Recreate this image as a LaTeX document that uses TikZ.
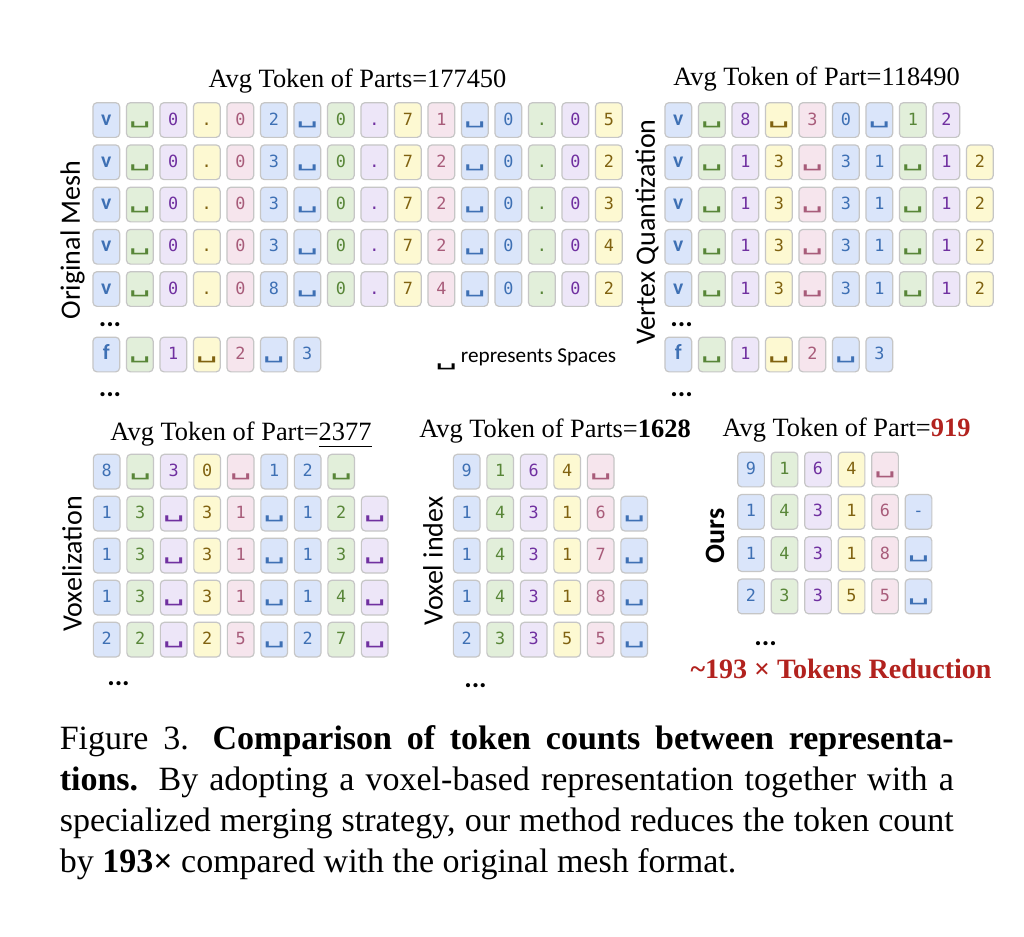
\documentclass[tikz,border=0pt]{standalone}
\usepackage{fontspec}
\setmainfont{Liberation Serif}
\setsansfont{Carlito}
\setmonofont{DejaVu Sans Mono}
\usepackage{xcolor}
\usepackage{graphicx}
\usetikzlibrary{positioning}
\definecolor{tokBfill}{RGB}{218,229,250}
\definecolor{tokGfill}{RGB}{226,239,218}
\definecolor{tokPfill}{RGB}{237,230,248}
\definecolor{tokYfill}{RGB}{253,249,210}
\definecolor{tokKfill}{RGB}{246,229,237}
\definecolor{tokBtext}{RGB}{62,112,180}
\definecolor{tokGtext}{RGB}{88,134,56}
\definecolor{tokPtext}{RGB}{112,48,160}
\definecolor{tokYtext}{RGB}{128,98,16}
\definecolor{tokKtext}{RGB}{168,92,122}
\definecolor{tokEdge}{RGB}{198,198,198}
\definecolor{redHi}{RGB}{178,34,30}
\newcommand{\vtok}{\sffamily\bfseries\fontsize{5.4}{5.4}\selectfont}
\newcommand{\tsp}{{\fontsize{6}{6}\selectfont\raisebox{0.3pt}{\scalebox{1.55}[0.8]{␣}}}}
\newcommand{\tokrow}[4]{%
  \foreach \tk [count=\i] in {#4} {%
    \pgfmathtruncatemacro{\tokc}{mod(\i-1,6)+1}%
    \node[tok, tok\tokc] (#1-\i) at ({#2+(\i-1)*33.5},#3) {\tk};
  }}
\tikzset{
  tok/.style={draw=tokEdge, line width=0.3pt, rounded corners=1pt,
    minimum width=6.675pt, minimum height=8.675pt, inner sep=0pt,
    text height=3pt, text depth=0.5pt, font=\ttfamily\fontsize{4.2}{4.2}\selectfont},
  tok1/.style={fill=tokBfill, text=tokBtext},
  tok2/.style={fill=tokGfill, text=tokGtext},
  tok3/.style={fill=tokPfill, text=tokPtext},
  tok4/.style={fill=tokYfill, text=tokYtext},
  tok5/.style={fill=tokKfill, text=tokKtext},
  tok6/.style={fill=tokBfill, text=tokBtext},
  title/.style={anchor=base, inner sep=0pt, font=\fontsize{6.6}{6.6}\selectfont},
  sidelab/.style={rotate=90, inner sep=0pt, font=\sffamily\fontsize{7}{7}\selectfont},
  moredots/.style={anchor=base, inner sep=0pt, font=\sffamily\bfseries\fontsize{7}{7}\selectfont},
  capline/.style={anchor=base west, inner sep=0pt, font=\fontsize{8.5}{10.25}\selectfont},
}

\begin{document}
\begin{tikzpicture}[x=0.25pt,y=-0.25pt]
\path[fill=white] (0,0) rectangle (1024,936);
\useasboundingbox (0,0) rectangle (1024,936);

% original mesh
\node[title] (t-om) at (357.5,87) {Avg Token of Parts=177450};
\node[sidelab] (l-om) at (72.5,240) {Original Mesh};
\tokrow{om1}{106.3}{120}{{\vtok v},\tsp,0,{.},0,2,\tsp,0,{.},7,1,\tsp,0,{.},0,5}
\tokrow{om2}{106.3}{162.25}{{\vtok v},\tsp,0,{.},0,3,\tsp,0,{.},7,2,\tsp,0,{.},0,2}
\tokrow{om3}{106.3}{204.5}{{\vtok v},\tsp,0,{.},0,3,\tsp,0,{.},7,2,\tsp,0,{.},0,3}
\tokrow{om4}{106.3}{246.75}{{\vtok v},\tsp,0,{.},0,3,\tsp,0,{.},7,2,\tsp,0,{.},0,4}
\tokrow{om5}{106.3}{289}{{\vtok v},\tsp,0,{.},0,8,\tsp,0,{.},7,4,\tsp,0,{.},0,2}
\node[moredots] (om-d1) at (110,326) {...};
\tokrow{omf}{106.3}{354.5}{{\vtok f},\tsp,1,\tsp,2,\tsp,3}
\node[moredots] (om-d2) at (110,396) {...};
\node[anchor=base east, inner sep=0pt, font=\sffamily\fontsize{5.3}{5.3}\selectfont] (spaces) at (617,362)
  {\raisebox{-0.9pt}{\ttfamily\fontsize{6}{6}\selectfont\scalebox{1.55}[0.8]{␣}}\,represents Spaces};

% vertex quantization
\node[title] (t-vq) at (816.5,85) {Avg Token of Part=118490};
\node[sidelab] (l-vq) at (647,232) {Vertex Quantization};
\tokrow{vq1}{678.3}{120}{{\vtok v},\tsp,8,\tsp,3,0,\tsp,1,2}
\tokrow{vq2}{678.3}{162.25}{{\vtok v},\tsp,1,3,\tsp,3,1,\tsp,1,2}
\tokrow{vq3}{678.3}{204.5}{{\vtok v},\tsp,1,3,\tsp,3,1,\tsp,1,2}
\tokrow{vq4}{678.3}{246.75}{{\vtok v},\tsp,1,3,\tsp,3,1,\tsp,1,2}
\tokrow{vq5}{678.3}{289}{{\vtok v},\tsp,1,3,\tsp,3,1,\tsp,1,2}
\node[moredots] (vq-d1) at (681.5,326) {...};
\tokrow{vqf}{678.3}{354.5}{{\vtok f},\tsp,1,\tsp,2,\tsp,3}
\node[moredots] (vq-d2) at (681.5,396.5) {...};

% voxelization
\node[title] (t-vx) at (241,440.5) {Avg Token of Part=\underline{2377}};
\node[sidelab] (l-vx) at (72,564) {Voxelization};
\tokrow{vx1}{106.7}{471.6}{8,\tsp,3,0,\tsp,1,2,\tsp}
\tokrow{vx2}{106.7}{513.6}{1,3,\tsp,3,1,\tsp,1,2,\tsp}
\tokrow{vx3}{106.7}{555.6}{1,3,\tsp,3,1,\tsp,1,3,\tsp}
\tokrow{vx4}{106.7}{597.6}{1,3,\tsp,3,1,\tsp,1,4,\tsp}
\tokrow{vx5}{106.7}{639.6}{2,2,\tsp,2,5,\tsp,2,7,\tsp}
\node[moredots] (vx-d) at (118.5,685) {...};

% voxel index
\node[title] (t-vi) at (555,437) {Avg Token of Parts=\textbf{1628}};
\node[sidelab] (l-vi) at (433,561) {Voxel index};
\tokrow{vi1}{466.7}{471.6}{9,1,6,4,\tsp}
\tokrow{vi2}{466.7}{513.6}{1,4,3,1,6,\tsp}
\tokrow{vi3}{466.7}{555.6}{1,4,3,1,7,\tsp}
\tokrow{vi4}{466.7}{597.6}{1,4,3,1,8,\tsp}
\tokrow{vi5}{466.7}{639.6}{2,3,3,5,5,\tsp}
\node[moredots] (vi-d) at (475.5,687.5) {...};

% ours
\node[title] (t-ou) at (846.5,436.5) {Avg Token of Part=\textcolor{redHi}{\textbf{919}}};
\node[sidelab, font=\sffamily\bfseries\fontsize{7}{7}\selectfont] (l-ou) at (715,536) {Ours};
\tokrow{ou1}{751}{469.5}{9,1,6,4,\tsp}
\tokrow{ou2}{751}{511.8}{1,4,3,1,6,-}
\tokrow{ou3}{751}{554.1}{1,4,3,1,8,\tsp}
\tokrow{ou4}{751}{596.4}{2,3,3,5,5,\tsp}
\node[moredots] (ou-d) at (765.5,645) {...};
\node[anchor=base, inner sep=0pt, text=redHi, font=\bfseries\fontsize{7}{7}\selectfont] (reduce) at (841,678)
  {\char`\~193 × Tokens Reduction};

% caption
\node[capline] (cap1) at (59,749.5) {\makebox[223.5pt][s]{Figure 3.\hspace{0.7em}\textbf{Comparison of token counts between representa-}}};
\node[capline] (cap2) at (59,790.5) {\makebox[223.5pt][s]{\textbf{tions.}\hspace{0.6em}By adopting a voxel-based representation together with a}};
\node[capline] (cap3) at (59,831) {\makebox[223.5pt][s]{specialized merging strategy, our method reduces the token count}};
\node[capline] (cap4) at (59,872) {by \textbf{193×} compared with the original mesh format.};
\end{tikzpicture}
\end{document}
